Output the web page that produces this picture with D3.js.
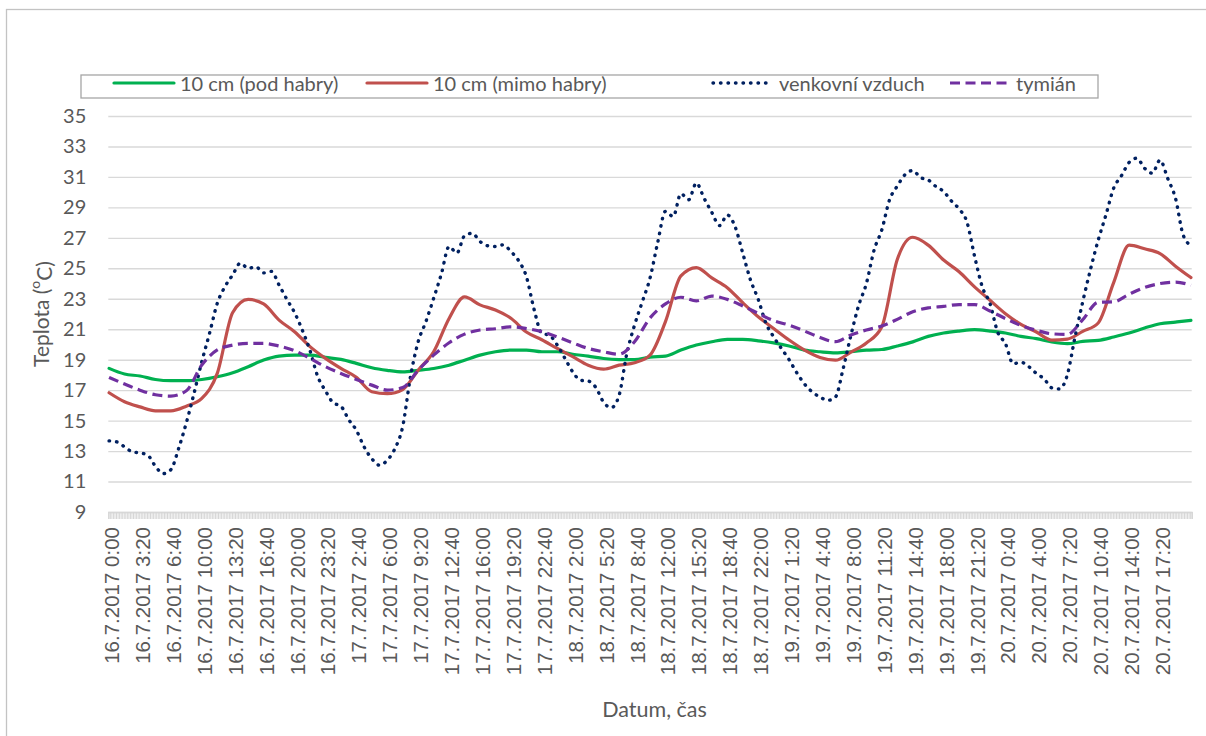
<!DOCTYPE html>
<html>
<head>
<meta charset="utf-8">
<script src="https://cdn.jsdelivr.net/npm/d3@7"></script>
<style>
  body { margin: 0; background: #fff; }
  svg { display: block; }
  text { fill: #595959; font-family: Lato, "Open Sans", sans-serif; }
</style>
</head>
<body>
<script>
// Tick labels on the category axis (one every 200 minutes)
const tickLabels = [
  "16.7.2017 0:00", "16.7.2017 3:20", "16.7.2017 6:40", "16.7.2017 10:00", "16.7.2017 13:20",
  "16.7.2017 16:40", "16.7.2017 20:00", "16.7.2017 23:20", "17.7.2017 2:40", "17.7.2017 6:00",
  "17.7.2017 9:20", "17.7.2017 12:40", "17.7.2017 16:00", "17.7.2017 19:20", "17.7.2017 22:40",
  "18.7.2017 2:00", "18.7.2017 5:20", "18.7.2017 8:40", "18.7.2017 12:00", "18.7.2017 15:20",
  "18.7.2017 18:40", "18.7.2017 22:00", "19.7.2017 1:20", "19.7.2017 4:40", "19.7.2017 8:00",
  "19.7.2017 11:20", "19.7.2017 14:40", "19.7.2017 18:00", "19.7.2017 21:20", "20.7.2017 0:40",
  "20.7.2017 4:00", "20.7.2017 7:20", "20.7.2017 10:40", "20.7.2017 14:00", "20.7.2017 17:20"
];
const labelStep = 200;   // minutes between labels
const tickStep = 10;     // minutes between category ticks
const lastMinute = 7000;

const yTicks = [9, 11, 13, 15, 17, 19, 21, 23, 25, 27, 29, 31, 33, 35];

// Soil / thyme readings, one every 100 minutes from 16.7.2017 0:00
const soilStep = 100;
const podHabry = [
  18.43, 18.06, 17.93, 17.7, 17.62, 17.62, 17.7, 17.88, 18.14, 18.54,
  18.98, 19.24, 19.3, 19.3, 19.15, 19.02, 18.76, 18.47, 18.3, 18.2,
  18.3, 18.42, 18.64, 18.97, 19.3, 19.52, 19.63, 19.63, 19.52, 19.52,
  19.36, 19.23, 19.08, 19.01, 19.0, 19.17, 19.23, 19.63, 19.96, 20.18,
  20.33, 20.33, 20.24, 20.1, 19.9, 19.63, 19.52, 19.45, 19.52, 19.63,
  19.67, 19.9, 20.17, 20.53, 20.75, 20.88, 20.97, 20.88, 20.75, 20.53,
  20.38, 20.16, 20.05, 20.2, 20.27, 20.49, 20.75, 21.08, 21.36, 21.47,
  21.58
];
const mimoHabry = [
  16.83, 16.24, 15.9, 15.64, 15.64, 15.95, 16.46, 18.1, 22.1, 22.96,
  22.66, 21.6, 20.84, 19.86, 19.09, 18.43, 17.84, 16.9, 16.77, 17.04,
  18.31, 19.52, 21.71, 23.12, 22.6, 22.26, 21.72, 20.82, 20.31, 19.74,
  19.2, 18.64, 18.38, 18.64, 18.8, 19.3, 21.5, 24.5, 25.05, 24.37,
  23.73, 22.74, 21.82, 21.05, 20.29, 19.63, 19.15, 18.97, 19.5, 20.1,
  21.16, 25.58, 27.04, 26.52, 25.54, 24.77, 23.78, 22.9, 22.02, 21.32,
  20.82, 20.29, 20.35, 20.86, 21.41, 24.06, 26.52, 26.28, 25.97, 25.14,
  24.39
];
const tymian = [
  17.84, 17.4, 17.0, 16.7, 16.61, 16.96, 18.65, 19.64, 19.96, 20.07,
  20.07, 19.9, 19.59, 19.09, 18.54, 18.1, 17.7, 17.33, 17.0, 17.17,
  18.31, 19.3, 20.11, 20.68, 20.95, 21.03, 21.16, 21.05, 20.84, 20.5,
  20.11, 19.74, 19.52, 19.36, 20.18, 21.74, 22.66, 23.1, 22.86, 23.18,
  22.96, 22.53, 22.04, 21.56, 21.27, 20.88, 20.46, 20.18, 20.62, 20.95,
  21.21, 21.65, 22.15, 22.4, 22.5, 22.62, 22.62, 22.2, 21.7, 21.25,
  20.93, 20.7, 20.66, 21.63, 22.77, 22.8, 23.3, 23.74, 24.0, 24.09,
  23.89
];

// Outdoor air, one reading every 50 minutes
const airStep = 50;
const vzduch = [
  13.67, 13.6, 13.28, 12.95, 12.88, 12.73, 12.0, 11.52, 11.78, 13.17,
  14.86, 16.8, 18.87, 20.73, 22.7, 23.8, 24.57, 25.34, 25.0, 25.1,
  24.7, 24.8, 23.9, 22.97, 22.1, 20.95, 19.6, 17.9, 16.96, 16.17,
  15.95, 15.07, 14.37, 13.28, 12.5, 12.07, 12.4, 13.17, 14.62, 17.87,
  20.18, 21.5, 23.03, 24.63, 26.43, 26.0, 27.14, 27.3, 26.76, 26.48,
  26.43, 26.54, 26.1, 25.5, 24.46, 22.3, 20.73, 20.6, 19.96, 19.08,
  18.2, 17.65, 17.6, 17.17, 16.2, 15.85, 16.66, 19.4, 21.27, 22.8,
  24.35, 26.7, 28.74, 28.4, 29.9, 29.5, 30.6, 29.6, 28.67, 27.8,
  28.5, 27.75, 26.0, 24.24, 22.97, 21.4, 20.5, 19.74, 19.0, 18.14,
  17.4, 16.88, 16.55, 16.33, 16.55, 18.42, 20.6, 22.56, 24.0, 26.2,
  27.53, 29.5, 30.4, 31.15, 31.42, 30.96, 30.8, 30.37, 30.04, 29.42,
  28.9, 28.06, 25.8, 23.78, 22.68, 20.8, 20.05, 18.73, 18.84, 18.55,
  18.1, 17.74, 17.15, 17.08, 18.0, 20.49, 22.8, 24.92, 26.85, 28.5,
  30.26, 31.07, 31.95, 32.23, 31.57, 31.24, 32.1, 30.9, 29.6, 27.18,
  26.5
];

const seriesNames = ["10 cm (pod habry)", "10 cm (mimo habry)", "venkovní vzduch", "tymián"];

(function() {
  const W = 1206, H = 736;
  const plot = { left: 108.3, right: 1191.7, top: 116, bottom: 512 };

  const svg = d3.select("body").append("svg")
    .attr("width", W)
    .attr("height", H);

  // Chart border (runs off the right and bottom of the picture)
  svg.append("rect")
    .attr("x", 6.5).attr("y", 9.5)
    .attr("width", 1260).attr("height", 800)
    .attr("fill", "none")
    .attr("stroke", "#c3c3c3")
    .attr("stroke-width", 1.3);

  const x = d3.scaleLinear().domain([-tickStep / 2, lastMinute + tickStep / 2]).range([plot.left, plot.right]);
  const y = d3.scaleLinear().domain([9, 35]).range([plot.bottom, plot.top]);

  // Horizontal gridlines + y tick labels
  const yAxis = d3.axisLeft(y)
    .tickValues(yTicks)
    .tickSize(-(plot.right - plot.left))
    .tickPadding(22)
    .tickFormat(d3.format("d"));
  const yg = svg.append("g")
    .attr("transform", `translate(${plot.left},0)`)
    .call(yAxis);
  yg.select(".domain").remove();
  yg.selectAll(".tick line").attr("stroke", "#d9d9d9").attr("stroke-width", 1.4);
  yg.selectAll(".tick text")
    .attr("fill", "#595959")
    .style("font-family", "Lato, sans-serif")
    .style("font-size", "20px");

  // Dense category ticks under the plot
  const xTicks = d3.axisBottom(x)
    .tickValues(d3.range(-tickStep / 2, lastMinute + tickStep, tickStep))
    .tickSize(7)
    .tickFormat("");
  const xg = svg.append("g")
    .attr("transform", `translate(0,${plot.bottom})`)
    .call(xTicks);
  xg.select(".domain").attr("stroke", "#d9d9d9").attr("stroke-width", 1.4);
  xg.selectAll(".tick line").attr("stroke", "#d6d6d6").attr("stroke-width", 1);

  // Rotated category labels
  const labelMinutes = tickLabels.map((d, i) => i * labelStep);
  svg.append("g").selectAll("text")
    .data(tickLabels)
    .join("text")
    .attr("transform", (d, i) => `translate(${x(labelMinutes[i]) + 2.5},527) rotate(-90)`)
    .attr("text-anchor", "end")
    .attr("dominant-baseline", "central")
    .style("font-family", "'Liberation Sans', Arial, sans-serif")
    .style("font-size", "20.5px")
    .text(d => d);

  // Axis titles
  const yTitle = svg.append("text")
    .attr("transform", "translate(40,314) rotate(-90)")
    .attr("text-anchor", "middle")
    .attr("dominant-baseline", "central")
    .style("font-size", "21px");
  yTitle.append("tspan").text("Teplota (");
  yTitle.append("tspan").attr("dy", "-0.45em").style("font-size", "14px").text("o");
  yTitle.append("tspan").attr("dy", "0.45em").text("C)");

  svg.append("text")
    .attr("x", 654.5).attr("y", 717)
    .attr("text-anchor", "middle")
    .style("font-size", "21.5px")
    .text("Datum, čas");

  // Series
  const toPoints = (vals, step) => vals.map((v, i) => ({ t: i * step, v: v }));
  const series = [
    { name: seriesNames[0], pts: toPoints(podHabry, soilStep), color: "#00b050", dash: null, cap: "round", width: 3.2 },
    { name: seriesNames[1], pts: toPoints(mimoHabry, soilStep), color: "#c0504d", dash: null, cap: "round", width: 3.2 },
    { name: seriesNames[2], pts: toPoints(vzduch, airStep), color: "#002060", dash: "0.5 7", cap: "round", width: 3.4 },
    { name: seriesNames[3], pts: toPoints(tymian, soilStep), color: "#7030a0", dash: "10 5.5", cap: "butt", width: 3.2 }
  ];

  const line = d3.line()
    .x(d => x(d.t))
    .y(d => y(d.v))
    .curve(d3.curveMonotoneX);

  // draw in Excel order so the later series sit on top
  series.forEach(s => {
    svg.append("path")
      .datum(s.pts)
      .attr("fill", "none")
      .attr("stroke", s.color)
      .attr("stroke-width", s.width)
      .attr("stroke-linecap", s.cap)
      .attr("stroke-linejoin", "round")
      .attr("stroke-dasharray", s.dash)
      .attr("d", line);
  });

  // Legend
  svg.append("rect")
    .attr("x", 81).attr("y", 75)
    .attr("width", 1017).attr("height", 23)
    .attr("fill", "#fff")
    .attr("stroke", "#a6a6a6")
    .attr("stroke-width", 1.3);

  const legendX = [114, 367, 713, 950];
  const lg = svg.append("g").selectAll("g")
    .data(series)
    .join("g")
    .attr("transform", (d, i) => `translate(${legendX[i]},83)`);
  lg.append("line")
    .attr("x1", 0).attr("x2", 60)
    .attr("stroke", d => d.color)
    .attr("stroke-width", d => d.width)
    .attr("stroke-linecap", d => d.cap)
    .attr("stroke-dasharray", d => d.dash);
  lg.append("text")
    .attr("x", 66)
    .attr("dominant-baseline", "central")
    .style("font-size", "20px")
    .text(d => d.name);
})();
</script>
</body>
</html>
